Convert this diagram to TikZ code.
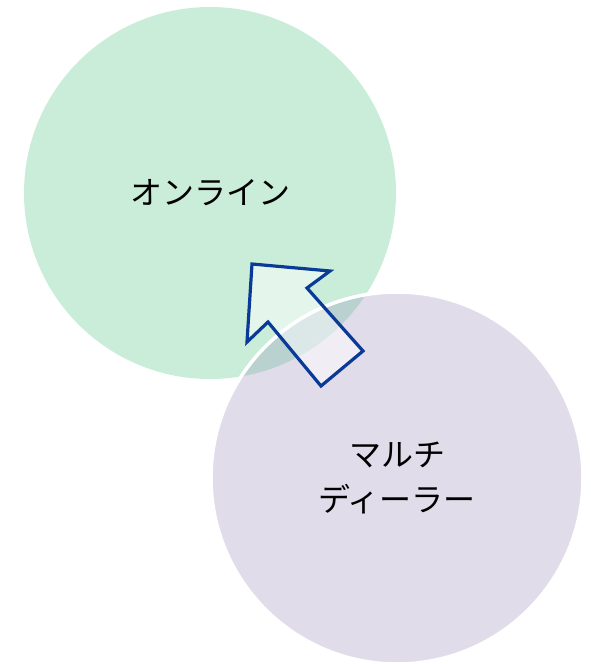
\documentclass[tikz,border=0pt]{standalone}
\usepackage{fontspec}
\setmainfont{Noto Sans CJK JP}
\usepackage{tikz}
\definecolor{onlinegreen}{HTML}{CAEDD9}
\definecolor{dealerlilac}{HTML}{E1DCEA}
\definecolor{lensgrey}{HTML}{B9D2CF}
\definecolor{arrowblue}{HTML}{0A3A98}
\begin{document}
\begin{tikzpicture}[x=1pt, y=-1pt]
\tikzset{bubble/.style={circle, inner sep=0pt, minimum size=372pt, align=center,
  font=\fontsize{32}{45}\selectfont}}
\tikzset{bigarrow/.style={draw=arrowblue, line width=3.2pt, fill=white, fill opacity=0.5, miter limit=10}}
\useasboundingbox (0,0) rectangle (591,664);
\node[bubble, fill=onlinegreen] (online) at (210,193) {オンライン};
\node[bubble, fill=dealerlilac] (multi) at (397,478) {マルチ\\ディーラー};
% overlap of the two circles
\begin{scope}
\clip (online.center) circle (186pt);
\fill[lensgrey] (multi.center) circle (186pt);
\end{scope}
\draw[white, line width=3.5pt] (multi.center) circle (186pt);
% arrow from dealer to online
\draw[bigarrow] (252,264) -- (330,271) -- (307,288) -- (363,351)
  -- (321,386) -- (268,322) -- (247,342) -- cycle;
\end{tikzpicture}
\end{document}
